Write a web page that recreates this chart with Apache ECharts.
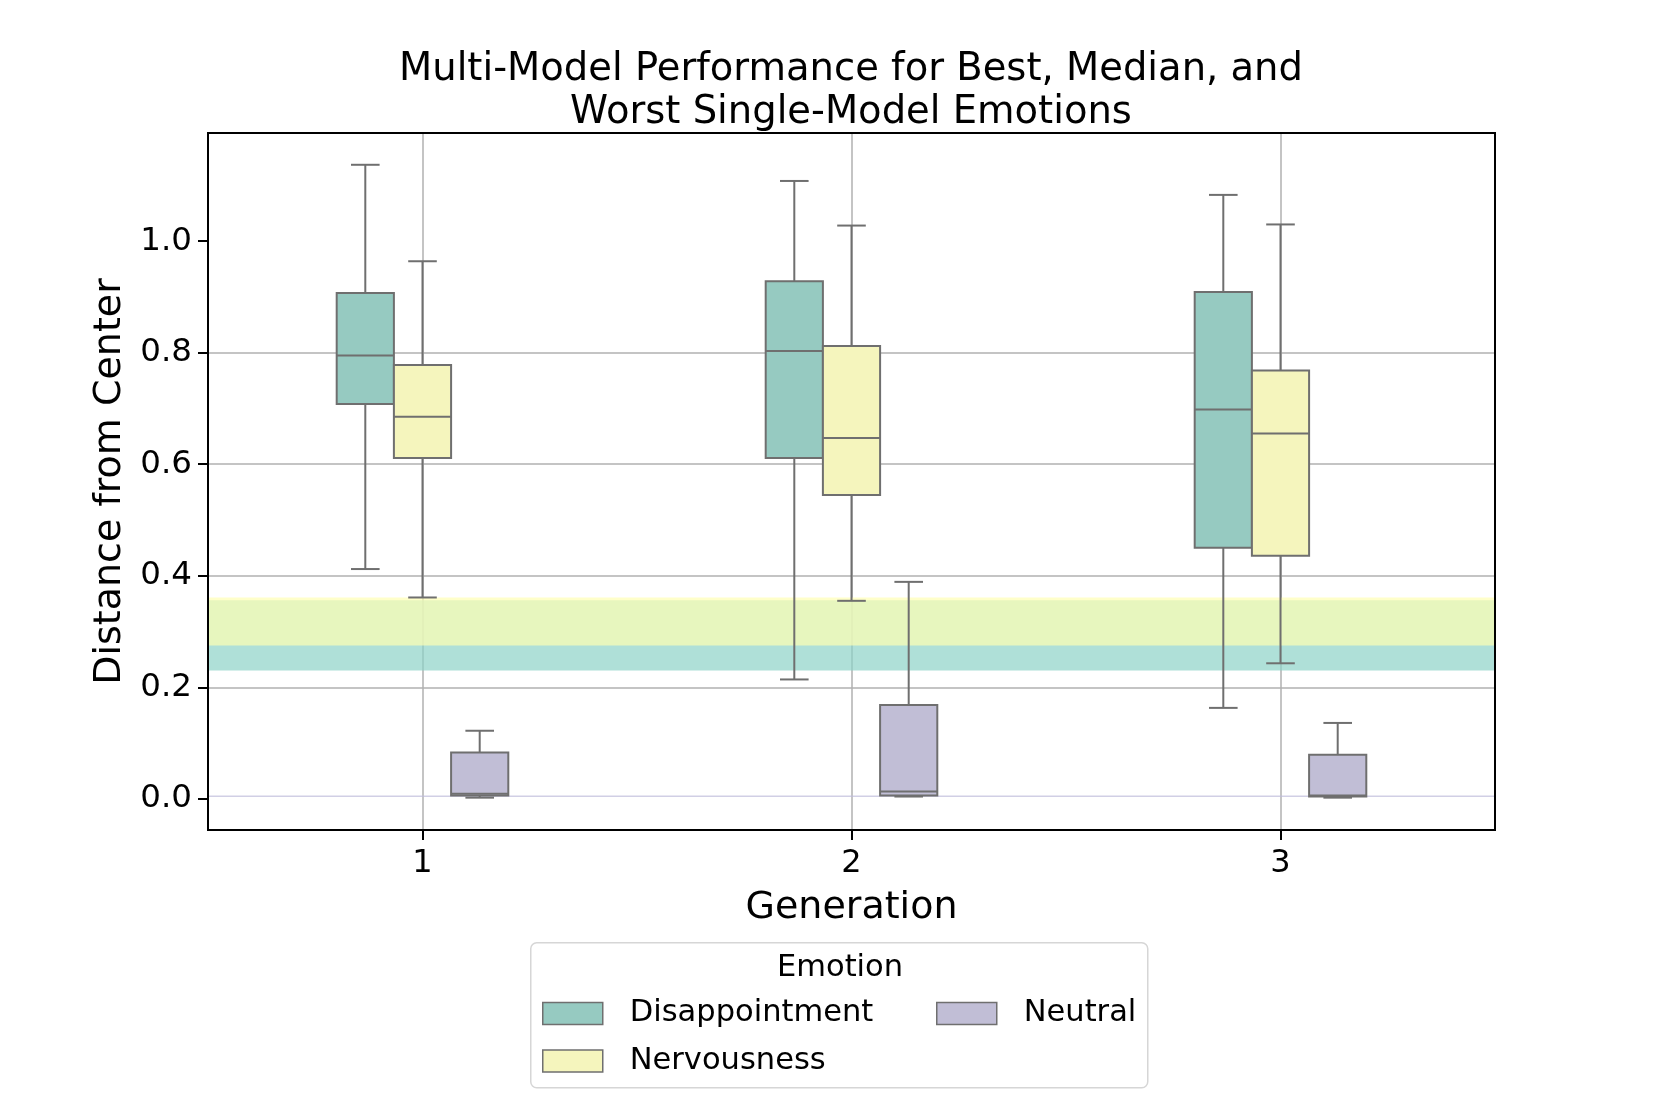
<!DOCTYPE html>
<html>
<head>
<meta charset="utf-8">
<script src="https://cdn.jsdelivr.net/npm/echarts@6/dist/echarts.min.js"></script>
<style>
html,body{margin:0;padding:0;background:#fff;}
#chart{width:1661px;height:1107px;}
</style>
</head>
<body>
<div id="chart"></div>
<script>
// ---- data ----
const generations = ['1', '2', '3'];
const emotions = ['Disappointment', 'Nervousness', 'Neutral'];
// per generation: [min, Q1, median, Q3, max]
const disappointmentStats = [
  [0.412, 0.708, 0.795, 0.907, 1.137],
  [0.214, 0.611, 0.803, 0.928, 1.108],
  [0.163, 0.450, 0.698, 0.909, 1.083]
];
const nervousnessStats = [
  [0.361, 0.611, 0.685, 0.778, 0.964],
  [0.355, 0.545, 0.647, 0.812, 1.028],
  [0.243, 0.436, 0.655, 0.768, 1.030]
];
const neutralStats = [
  [0.002, 0.006, 0.009, 0.083, 0.122],
  [0.004, 0.006, 0.013, 0.168, 0.389],
  [0.002, 0.004, 0.006, 0.079, 0.136]
];
// single-model reference bands per emotion: [low, high]
const singleModelBands = [
  [0.230, 0.356],
  [0.275, 0.361],
  [0.003, 0.006]
];
const yTickValues = [0.0, 0.2, 0.4, 0.6, 0.8, 1.0];

// ---- styles ----
const boxColors = ['#96cac1', '#f5f5bd', '#c1bed6'];
const bandColors = ['#8dd3c7', '#ffffb3', '#bebada'];
const lineGray = '#6f6f6f';
const gridGray = '#b0b0b0';
const FONT = 'DejaVu Sans';
const HUE_SPAN = 0.4; // total dodge width (fraction of category band)

const allStats = [disappointmentStats, nervousnessStats, neutralStats];

function makeRenderItem(hueIdx) {
  return function (params, api) {
    const cat = api.value(0);
    const band = api.size([1, 0])[0];
    const slot = band * HUE_SPAN / emotions.length;
    const offset = (hueIdx - (emotions.length - 1) / 2) * slot;
    const cx = api.coord([cat, 0])[0] + offset;
    const yMin = api.coord([cat, api.value(1)])[1];
    const yQ1 = api.coord([cat, api.value(2)])[1];
    const yMed = api.coord([cat, api.value(3)])[1];
    const yQ3 = api.coord([cat, api.value(4)])[1];
    const yMax = api.coord([cat, api.value(5)])[1];
    const half = slot / 2;
    const capHalf = slot / 4;
    const ls = { stroke: lineGray, lineWidth: 2, fill: null };
    return {
      type: 'group',
      children: [
        { type: 'line', shape: { x1: cx, y1: yQ3, x2: cx, y2: yMax }, style: ls },
        { type: 'line', shape: { x1: cx, y1: yQ1, x2: cx, y2: yMin }, style: ls },
        { type: 'line', shape: { x1: cx - capHalf, y1: yMax, x2: cx + capHalf, y2: yMax }, style: ls },
        { type: 'line', shape: { x1: cx - capHalf, y1: yMin, x2: cx + capHalf, y2: yMin }, style: ls },
        { type: 'rect', shape: { x: cx - half, y: yQ3, width: slot, height: yQ1 - yQ3 },
          style: { fill: boxColors[hueIdx], stroke: lineGray, lineWidth: 2 } },
        { type: 'line', shape: { x1: cx - half, y1: yMed, x2: cx + half, y2: yMed }, style: ls }
      ]
    };
  };
}

const series = [];
// band series (drawn beneath boxes)
series.push({
  type: 'line',
  name: 'bands',
  data: [],
  z: 1,
  silent: true,
  markArea: {
    silent: true,
    label: { show: false },
    data: singleModelBands.map((b, i) => [
      { yAxis: b[0], itemStyle: { color: bandColors[i], opacity: 0.7 } },
      { yAxis: b[1] }
    ])
  }
});
emotions.forEach((name, h) => {
  series.push({
    type: 'custom',
    name: name,
    z: 3,
    renderItem: makeRenderItem(h),
    encode: { x: 0, y: [1, 2, 3, 4, 5] },
    itemStyle: { color: boxColors[h], borderColor: lineGray, borderWidth: 1.5 },
    data: allStats[h].map((s, g) => [g].concat(s))
  });
});

const chart = echarts.init(document.getElementById('chart'), null, { renderer: 'canvas' });
const legendCommon = {
  icon: 'rect',
  orient: 'vertical',
  itemWidth: 60,
  itemHeight: 22,
  itemGap: 16.5,
  top: 993,
  selectedMode: false,
  itemStyle: { borderColor: lineGray, borderWidth: 1.5 },
  textStyle: { fontFamily: FONT, fontSize: 30.5, color: '#000', padding: [0, 0, 0, 22] }
};
chart.setOption({
  backgroundColor: '#fff',
  animation: false,
  title: {
    text: 'Multi-Model Performance for Best, Median, and\nWorst Single-Model Emotions',
    left: 846,
    top: 43,
    textAlign: 'center',
    textStyle: { fontFamily: FONT, fontSize: 38.5, fontWeight: 'normal', color: '#000', lineHeight: 43 }
  },
  grid: {
    left: 208, right: 166, top: 133, bottom: 277,
    show: true, z: 10,
    borderColor: '#000', borderWidth: 2, backgroundColor: 'transparent'
  },
  legend: [
    Object.assign({}, legendCommon, { left: 537, data: ['Disappointment', 'Nervousness'] }),
    Object.assign({}, legendCommon, { left: 931, data: ['Neutral'] })
  ],
  graphic: [
    {
      type: 'rect', left: 530, top: 942, z: -1,
      shape: { width: 617, height: 145, r: 6 },
      style: { fill: '#fff', stroke: '#d6d6d6', lineWidth: 1.5 }
    },
    {
      type: 'text', left: 777, top: 953, z: 5,
      style: { text: 'Emotion', fontFamily: FONT, fontSize: 30.5, fill: '#000' }
    }
  ],
  xAxis: {
    type: 'category',
    data: generations,
    boundaryGap: true,
    name: 'Generation',
    nameLocation: 'middle',
    nameGap: 59,
    nameTextStyle: { fontFamily: FONT, fontSize: 38, color: '#000' },
    axisLine: { show: true, onZero: false, lineStyle: { color: '#000', width: 2 } },
    axisTick: { show: true, alignWithLabel: true, length: 10, lineStyle: { color: '#000', width: 2 } },
    axisLabel: { fontFamily: FONT, fontSize: 32, color: '#000', margin: 18 },
    splitLine: { show: true, alignWithLabel: true, lineStyle: { color: gridGray, width: 1.5 } }
  },
  yAxis: {
    type: 'value',
    min: -0.056,
    max: 1.194,
    splitNumber: 6,
    name: 'Distance from Center',
    nameLocation: 'middle',
    nameGap: 78,
    nameTextStyle: { fontFamily: FONT, fontSize: 38, color: '#000' },
    axisLine: { show: true, lineStyle: { color: '#000', width: 2 } },
    axisTick: { show: true, length: 10, customValues: yTickValues, lineStyle: { color: '#000', width: 2 } },
    axisLabel: {
      fontFamily: FONT, fontSize: 32.5, color: '#000', margin: 16,
      customValues: yTickValues,
      formatter: v => v.toFixed(1)
    },
    splitLine: { show: true, showMinLine: false, showMaxLine: false, lineStyle: { color: gridGray, width: 1.5 } }
  },
  series: series
});
</script>
</body>
</html>
